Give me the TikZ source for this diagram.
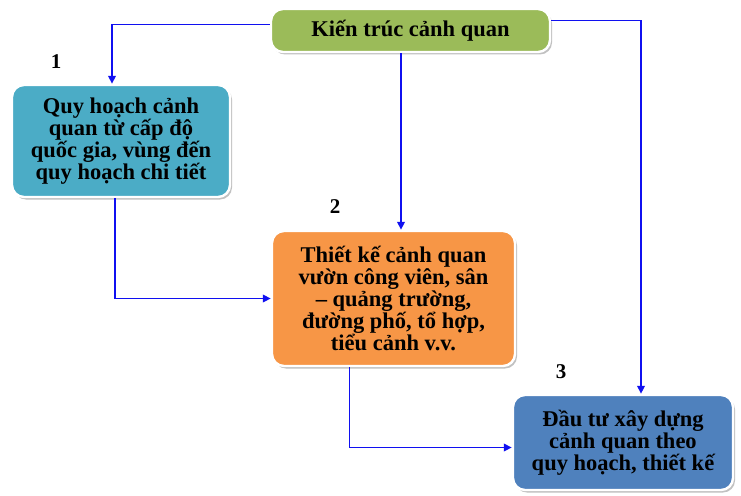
\documentclass[tikz,border=0pt]{standalone}
\usepackage{fontspec}
\setmainfont{Liberation Serif}
\usetikzlibrary{shadows,arrows.meta}
\definecolor{boxgreen}{HTML}{9BBB59}
\definecolor{boxteal}{HTML}{4BACC6}
\definecolor{boxorange}{HTML}{F79646}
\definecolor{boxblue}{HTML}{4F81BD}
\definecolor{linkblue}{HTML}{1010F0}
\begin{document}
\begin{tikzpicture}[x=1pt,y=-1pt,
  stage/.style={rounded corners=12pt, draw=white, line width=2.4pt,
    drop shadow={shadow xshift=2pt, shadow yshift=-2.5pt, fill=black!35, opacity=0.7},
    align=center, inner sep=0pt, text=black,
    font=\bfseries\fontsize{22.5}{21.8}\selectfont},
  numlabel/.style={font=\bfseries\fontsize{21}{22}\selectfont},
  arr/.style={draw=linkblue, line width=1.8pt, -{Triangle[length=8pt,width=7.5pt]}}]
\useasboundingbox (0,0) rectangle (741,495);

% stages of the landscape-architecture process
\node[stage, fill=boxgreen, minimum width=279pt, minimum height=43pt] (top) at (410.5,30.5)
  {Kiến trúc cảnh quan};
\node[stage, fill=boxteal, minimum width=218pt, minimum height=112pt] (b1) at (121,141)
  {Quy hoạch cảnh\\quan từ cấp độ\\quốc gia, vùng đến\\quy hoạch chi tiết};
\node[stage, fill=boxorange, minimum width=243pt, minimum height=135pt] (b2) at (393.5,298.5)
  {Thiết kế cảnh quan\\vườn công viên, sân\\– quảng trường,\\đường phố, tổ hợp,\\tiểu cảnh v.v.};
\node[stage, fill=boxblue, minimum width=220pt, minimum height=95pt] (b3) at (623,442.5)
  {Đầu tư xây dựng\\cảnh quan theo\\quy hoạch, thiết kế};

% step numbers
\node[numlabel] (n1) at (56,62) {1};
\node[numlabel] (n2) at (335,207) {2};
\node[numlabel] (n3) at (561,372) {3};

% connectors
\draw[arr] ([yshift=6pt]top.west) -| ([xshift=-9pt]b1.north);
\draw[arr] ([xshift=-9.5pt]top.south) -- ([xshift=-9.5pt]top.south |- b2.north);
\draw[arr] ([yshift=10pt]top.east) -| ([xshift=18pt]b3.north);
\draw[arr] ([xshift=-6pt]b1.south) |- (b2.west);
\draw[arr] ([xshift=-44pt]b2.south) |- ([yshift=-5pt]b3.west);
\end{tikzpicture}
\end{document}
